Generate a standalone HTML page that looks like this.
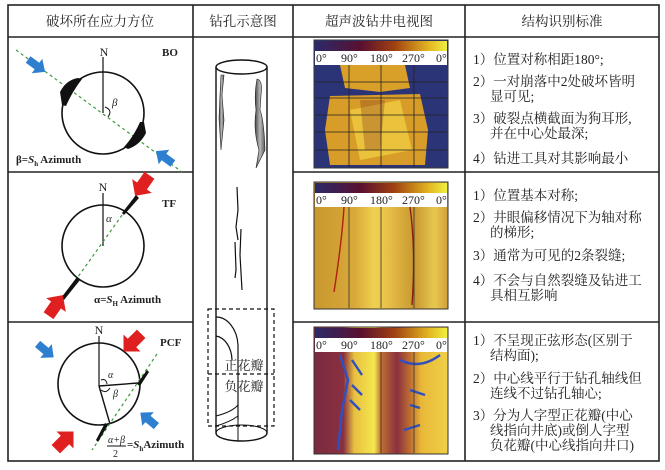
<!DOCTYPE html>
<html><head><meta charset="utf-8"><style>
body{margin:0;background:#fff}
svg{display:block}
text{font-family:"Liberation Serif","Noto Serif CJK SC",serif;fill:#222}
.cn{font-family:"Liberation Serif","Noto Serif CJK SC","Noto Sans CJK SC",serif}
</style></head><body>
<svg width="665" height="470" viewBox="0 0 665 470" xmlns="http://www.w3.org/2000/svg">
<defs>
<linearGradient id="cb" x1="0" x2="1"><stop offset="0" stop-color="#2a2a6a"/><stop offset="0.35" stop-color="#5a1030"/><stop offset="0.6" stop-color="#a04010"/><stop offset="0.85" stop-color="#e0b020"/><stop offset="1" stop-color="#f0f040"/></linearGradient>
<linearGradient id="sh" x1="0" x2="1"><stop offset="0" stop-color="#444"/><stop offset="0.5" stop-color="#bbb"/><stop offset="1" stop-color="#555"/></linearGradient>
<linearGradient id="y2" x1="0" x2="1"><stop offset="0" stop-color="#c89830"/><stop offset="0.3" stop-color="#d8a838"/><stop offset="0.45" stop-color="#f0d050"/><stop offset="0.55" stop-color="#e8c048"/><stop offset="0.75" stop-color="#c89830"/><stop offset="0.9" stop-color="#e8c850"/><stop offset="1" stop-color="#d0a038"/></linearGradient>
<linearGradient id="y3" x1="0" x2="1"><stop offset="0" stop-color="#7a2a40"/><stop offset="0.22" stop-color="#8a3040"/><stop offset="0.3" stop-color="#e8c040"/><stop offset="0.45" stop-color="#f5e850"/><stop offset="0.5" stop-color="#c07030"/><stop offset="0.62" stop-color="#8a3040"/><stop offset="0.72" stop-color="#c07030"/><stop offset="0.8" stop-color="#e8b838"/><stop offset="1" stop-color="#f0d048"/></linearGradient>
<polygon id="ar" points="-11,-4 0,-4 0,-9 10,0 0,9 0,4 -11,4"/>
<polygon id="arb" points="-13,-6 0,-6 0,-12 12,0 0,12 0,6 -13,6"/>
</defs>
<rect width="665" height="470" fill="#fff"/>
<g stroke="#222" stroke-width="1.6" fill="none">
<rect x="8" y="5" width="651" height="456"/>
<line x1="8" y1="37" x2="659" y2="37"/>
<line x1="193" y1="5" x2="193" y2="461"/>
<line x1="293" y1="5" x2="293" y2="461"/>
<line x1="465" y1="5" x2="465" y2="461"/>
<line x1="8" y1="172" x2="193" y2="172"/>
<line x1="293" y1="172" x2="659" y2="172"/>
<line x1="8" y1="322" x2="193" y2="322"/>
<line x1="293" y1="322" x2="659" y2="322"/>
</g>
<g class="cn" font-size="13.5">
<text x="100" y="26" text-anchor="middle">破坏所在应力方位</text>
<text x="243" y="26" text-anchor="middle">钻孔示意图</text>
<text x="379" y="26" text-anchor="middle">超声波钻井电视图</text>
<text x="562" y="26" text-anchor="middle">结构识别标准</text>
</g>
<!-- BO -->
<line x1="16" y1="50" x2="182" y2="172" stroke="#3a9a3a" stroke-width="1.2" stroke-dasharray="3,3"/>
<circle cx="103" cy="113" r="41" fill="none" stroke="#111" stroke-width="1.6"/>
<path d="M62,105 L60,92 Q66,80 78,78 L82,79 Q72,92 66,106 Z" fill="#111"/>
<path d="M144,122 L146,133 Q140,145 128,149 L124,147 Q134,136 140,122 Z" fill="#111"/>
<line x1="103" y1="57" x2="103" y2="113" stroke="#111" stroke-width="1.2"/>
<path d="M105,107 Q113,110 108,117" fill="none" stroke="#111"/>
<text x="104" y="56" font-size="12" text-anchor="middle">N</text>
<text x="162" y="56" font-size="11" font-weight="bold">BO</text>
<text x="112" y="106" font-size="11" font-style="italic">β</text>
<use href="#ar" transform="translate(37,66) rotate(36)" fill="#2f7fd0"/>
<use href="#ar" transform="translate(164,157) rotate(216)" fill="#2f7fd0"/>
<text x="16" y="163" font-size="11" font-weight="bold">β=<tspan font-style="italic">S</tspan><tspan font-size="7" dy="3">h</tspan><tspan dy="-3"> Azimuth</tspan></text>
<!-- TF -->
<text x="103" y="191" font-size="12" text-anchor="middle">N</text>
<line x1="103" y1="193" x2="103" y2="246" stroke="#111" stroke-width="1.2"/>
<circle cx="103" cy="246" r="41" fill="none" stroke="#111" stroke-width="1.6"/>
<line x1="150" y1="176" x2="50" y2="316" stroke="#3a9a3a" stroke-width="1.2" stroke-dasharray="3,3"/>
<polygon points="122,213 136,195 139,198 124,215" fill="#111"/>
<polygon points="80,280 64,300 61,298 77,277" fill="#111"/>
<use href="#arb" transform="translate(142,186) rotate(125)" fill="#e02020"/>
<use href="#arb" transform="translate(56,305) rotate(-55)" fill="#e02020"/>
<text x="106" y="222" font-size="11" font-style="italic">α</text>
<text x="162" y="207" font-size="11" font-weight="bold">TF</text>
<text x="94" y="303" font-size="11" font-weight="bold">α=<tspan font-style="italic">S</tspan><tspan font-size="7" dy="3">H</tspan><tspan dy="-3"> Azimuth</tspan></text>
<!-- PCF -->
<text x="99" y="334" font-size="12" text-anchor="middle">N</text>
<line x1="99" y1="336" x2="99" y2="386" stroke="#111" stroke-width="1.2"/>
<circle cx="99" cy="384" r="41" fill="none" stroke="#111" stroke-width="1.6"/>
<line x1="99" y1="386" x2="138" y2="383" stroke="#111" stroke-width="1.4"/>
<line x1="99" y1="386" x2="110" y2="424" stroke="#111" stroke-width="1.4"/>
<line x1="157" y1="354" x2="92" y2="450" stroke="#3a9a3a" stroke-width="1.2" stroke-dasharray="3,3"/>
<polygon points="137,384 147,370 149,372 140,386" fill="#111"/>
<polygon points="108,425 98,442 96,440 105,423" fill="#111"/>
<path d="M101,380 Q106,378 107,384 M101,390 Q106,394 110,388" fill="none" stroke="#111"/>
<text x="108" y="378" font-size="10" font-style="italic">α</text>
<text x="113" y="397" font-size="10" font-style="italic">β</text>
<text x="160" y="346" font-size="11" font-weight="bold">PCF</text>
<use href="#arb" transform="translate(132,343) rotate(135)" fill="#e02020"/>
<use href="#arb" transform="translate(65,440) rotate(-45)" fill="#e02020"/>
<use href="#ar" transform="translate(46,351) rotate(40)" fill="#2f7fd0"/>
<use href="#ar" transform="translate(148,419) rotate(220)" fill="#2f7fd0"/>
<text x="108" y="443" font-size="10" font-style="italic">α+β</text>
<line x1="107" y1="446" x2="126" y2="446" stroke="#111"/>
<text x="113" y="457" font-size="10">2</text>
<text x="127" y="448" font-size="11" font-weight="bold">=<tspan font-style="italic">S</tspan><tspan font-size="7" dy="3">h</tspan><tspan dy="-3">Azimuth</tspan></text>
<!-- borehole -->
<line x1="216" y1="67" x2="216" y2="433" stroke="#111" stroke-width="1.4"/>
<line x1="267" y1="67" x2="267" y2="433" stroke="#111" stroke-width="1.4"/>
<ellipse cx="241.5" cy="67" rx="25.5" ry="7" fill="#fff" stroke="#111" stroke-width="1.4"/>
<path d="M216,433 A25.5,8 0 0 0 267,433" fill="none" stroke="#111" stroke-width="1.4"/>
<path d="M216,433 A25.5,8 0 0 1 267,433" fill="none" stroke="#111" stroke-width="1"/>
<path d="M221,75 L224,75 L222,95 L224,120 L221,150 L219,118 L220,95 Z" fill="url(#sh)" stroke="#222" stroke-width="0.6"/>
<path d="M257,79 Q263,80 261,95 L260,110 Q264,120 265,150 L256,168 L259,150 Q253,130 256,110 Q254,95 257,79 Z" fill="url(#sh)" stroke="#222" stroke-width="0.6"/>
<path d="M237,187 L238,210 L236,227 L238,240 M241,229 L240,255 L242,290 M235,242 L236,270 L235,278" fill="none" stroke="#111" stroke-width="1.2"/>
<rect x="208" y="309" width="66" height="117" fill="none" stroke="#111" stroke-width="1.2" stroke-dasharray="4,3"/>
<line x1="208" y1="374" x2="274" y2="374" stroke="#111" stroke-width="1.2" stroke-dasharray="4,3"/>
<path d="M216,317 A22,30 0 0 1 238,345 L238,420 M216,336 A18,25 0 0 1 232,360" fill="none" stroke="#111" stroke-width="1.2"/>
<path d="M216,416 Q232,412 238,405 M216,426 Q230,422 238,416" fill="none" stroke="#111" stroke-width="1"/>
<line x1="238" y1="420" x2="238" y2="441" stroke="#111" stroke-width="1"/>
<text x="244" y="370" class="cn" font-size="13" text-anchor="middle">正花瓣</text>
<text x="244" y="391" class="cn" font-size="13" text-anchor="middle">负花瓣</text>
<!-- images -->
<g>
<rect x="314" y="40" width="134" height="128" fill="#2c3478" stroke="#333"/>
<rect x="315" y="41" width="132" height="10" fill="url(#cb)"/>
<rect x="315" y="51" width="132" height="14" fill="#fff"/>
<path d="M340,65 L405,65 L410,88 L380,92 L345,88 Z" fill="#d8a028"/>
<path d="M330,96 L420,94 L428,130 L425,165 L330,165 L325,130 Z" fill="#d89c28"/>
<path d="M350,110 L400,100 L412,150 L360,160 Z" fill="#f0cc40" opacity="0.8"/>
<path d="M360,100 L385,100 L380,150 L365,150 Z" fill="#8a4020" opacity="0.35"/>
<g stroke="#222" stroke-width="0.8"><line x1="315" y1="82" x2="447" y2="82"/><line x1="315" y1="98" x2="447" y2="98"/><line x1="315" y1="115" x2="447" y2="115"/><line x1="315" y1="132" x2="447" y2="132"/><line x1="315" y1="150" x2="447" y2="150"/><line x1="349" y1="65" x2="349" y2="167"/><line x1="381" y1="65" x2="381" y2="167"/><line x1="414" y1="65" x2="414" y2="167"/></g>
<g font-size="12"><text x="316" y="62">0°</text><text x="341" y="62">90°</text><text x="370" y="62">180°</text><text x="402" y="62">270°</text><text x="436" y="62">0°</text></g>
</g>
<g>
<rect x="314" y="182" width="134" height="127" fill="url(#y2)" stroke="#333"/>
<rect x="315" y="183" width="132" height="10" fill="url(#cb)"/>
<rect x="315" y="193" width="132" height="14" fill="#fff"/>
<path d="M344,207 Q342,240 334,292" stroke="#b02010" stroke-width="1.4" fill="none"/>
<path d="M410,207 Q416,250 412,305" stroke="#8a2010" stroke-width="1.4" fill="none"/>
<g stroke="#333" stroke-width="0.8"><line x1="349" y1="207" x2="349" y2="308"/><line x1="381" y1="207" x2="381" y2="308"/><line x1="414" y1="207" x2="414" y2="308"/></g>
<g font-size="12"><text x="316" y="204">0°</text><text x="341" y="204">90°</text><text x="370" y="204">180°</text><text x="402" y="204">270°</text><text x="436" y="204">0°</text></g>
</g>
<g>
<rect x="314" y="327" width="134" height="127" fill="url(#y3)" stroke="#333"/>
<rect x="315" y="328" width="132" height="10" fill="url(#cb)"/>
<rect x="315" y="338" width="132" height="14" fill="#fff"/>
<path d="M340,355 L348,380 L342,410 L338,450 M352,360 L362,375 M352,385 L362,395 M350,400 L360,410 M400,360 Q420,370 440,355 M410,390 L425,395 M410,405 L420,408 M404,430 L420,425" stroke="#3050c0" stroke-width="2.4" fill="none"/>
<g stroke="#333" stroke-width="0.8"><line x1="381" y1="352" x2="381" y2="453"/><line x1="414" y1="352" x2="414" y2="453"/></g>
<g font-size="12"><text x="316" y="349">0°</text><text x="341" y="349">90°</text><text x="370" y="349">180°</text><text x="402" y="349">270°</text><text x="436" y="349">0°</text></g>
</g>
<!-- criteria -->
<g class="cn" font-size="13.5" fill="#333">
<text x="473" y="64">1）位置对称相距180°;</text>
<text x="473" y="86">2）一对崩落中2处破坏皆明</text>
<text x="490" y="101">显可见;</text>
<text x="473" y="123">3）破裂点横截面为狗耳形,</text>
<text x="490" y="138">并在中心处最深;</text>
<text x="473" y="163">4）钻进工具对其影响最小</text>
<text x="473" y="200">1）位置基本对称;</text>
<text x="473" y="222">2）井眼偏移情况下为轴对称</text>
<text x="490" y="237">的梯形;</text>
<text x="473" y="260">3）通常为可见的2条裂缝;</text>
<text x="473" y="285">4）不会与自然裂缝及钻进工</text>
<text x="490" y="300">具相互影响</text>
<text x="473" y="345">1）不呈现正弦形态(区别于</text>
<text x="490" y="360">结构面);</text>
<text x="473" y="383">2）中心线平行于钻孔轴线但</text>
<text x="490" y="398">连线不过钻孔轴心;</text>
<text x="473" y="420">3）分为人字型正花瓣(中心</text>
<text x="490" y="435">线指向井底)或倒人字型</text>
<text x="490" y="450">负花瓣(中心线指向井口)</text>
</g>
</svg>
</body></html>
